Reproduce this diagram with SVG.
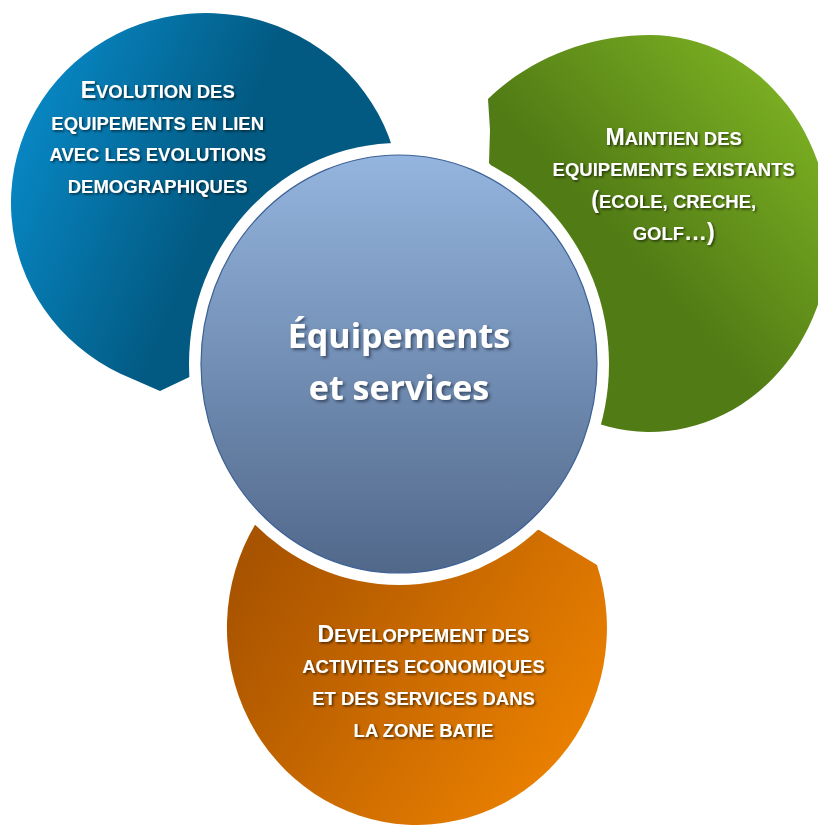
<svg xmlns="http://www.w3.org/2000/svg" width="818" height="825" viewBox="0 0 818 825">
  <defs>
    <linearGradient id="gBlue" gradientUnits="userSpaceOnUse" x1="12" y1="120" x2="215" y2="200">
      <stop offset="0" stop-color="#0889c7"/>
      <stop offset="1" stop-color="#025a82"/>
    </linearGradient>
    <linearGradient id="gGreen" gradientUnits="userSpaceOnUse" x1="805" y1="115" x2="640" y2="265">
      <stop offset="0" stop-color="#7aae22"/>
      <stop offset="1" stop-color="#517b15"/>
    </linearGradient>
    <linearGradient id="gOrange" gradientUnits="userSpaceOnUse" x1="250" y1="560" x2="600" y2="800">
      <stop offset="0" stop-color="#a85300"/>
      <stop offset="1" stop-color="#f38600"/>
    </linearGradient>
    <linearGradient id="gCenter" gradientUnits="userSpaceOnUse" x1="0" y1="155" x2="0" y2="573">
      <stop offset="0" stop-color="#94b5df"/>
      <stop offset="1" stop-color="#51688a"/>
    </linearGradient>
    <filter id="txtShadow" x="-10%" y="-30%" width="120%" height="160%">
      <feDropShadow dx="1.5" dy="1.5" stdDeviation="1.1" flood-color="#000" flood-opacity="0.6"/>
    </filter>
    <filter id="titleShadow" x="-10%" y="-30%" width="120%" height="160%">
      <feDropShadow dx="2" dy="2" stdDeviation="1.6" flood-color="#1d2a3c" flood-opacity="0.65"/>
    </filter>
  </defs>
  <style>
    .lbl { font-family: "Liberation Sans", Arial, sans-serif; font-weight: bold; fill: #ffffff; text-anchor: middle; filter: url(#txtShadow); }
    .sc { font-size: 18.5px; }
    .cap { font-size: 23px; }
    .title { font-family: "Open Sans", "Noto Sans", sans-serif; font-weight: bold; font-size: 34px; fill: #ffffff; text-anchor: middle; filter: url(#titleShadow); }
  </style>

  <!-- blue bubble, top left -->
  <g id="node-evolution">
    <path d="M400,184 A195,190 0 1 0 120,373.5 L160,391 L200,372 Z" fill="url(#gBlue)"/>
    <text class="lbl sc" x="157.7" y="98.3"><tspan class="cap">E</tspan>VOLUTION DES</text>
    <text class="lbl sc" x="157.7" y="129.5">EQUIPEMENTS EN LIEN</text>
    <text class="lbl sc" x="157.7" y="161">AVEC LES EVOLUTIONS</text>
    <text class="lbl sc" x="157.7" y="192.7">DEMOGRAPHIQUES</text>
  </g>

  <!-- green bubble, right -->
  <g id="node-maintien">
    <path d="M590,420.7 A180,198.5 0 1 0 650,35 C590,35 530,58 488,99 L490,130 L489,163 L560,250 Z" fill="url(#gGreen)"/>
    <text class="lbl sc" x="673.7" y="145"><tspan class="cap">M</tspan>AINTIEN DES</text>
    <text class="lbl sc" x="673.7" y="176">EQUIPEMENTS EXISTANTS</text>
    <text class="lbl sc" x="673.7" y="208"><tspan class="cap">(</tspan>ECOLE, CRECHE,</text>
    <text class="lbl sc" x="673.7" y="240">GOLF<tspan class="cap">…)</tspan></text>
  </g>

  <!-- orange bubble, bottom -->
  <g id="node-developpement">
    <path d="M270,503 A190,197 0 1 0 597,565 L539,530 L500,520 Z" fill="url(#gOrange)"/>
    <text class="lbl sc" x="423.5" y="642.3"><tspan class="cap">D</tspan>EVELOPPEMENT DES</text>
    <text class="lbl sc" x="423.5" y="673">ACTIVITES ECONOMIQUES</text>
    <text class="lbl sc" x="423.5" y="704.5">ET DES SERVICES DANS</text>
    <text class="lbl sc" x="423.5" y="736.5">LA ZONE BATIE</text>
  </g>

  <!-- central theme with its white halo -->
  <g id="node-center">
    <ellipse cx="399" cy="364" rx="210" ry="221" fill="#ffffff"/>
    <ellipse cx="399" cy="364" rx="198" ry="209" fill="url(#gCenter)" stroke="#3d6196" stroke-width="1.2"/>
    <text class="title" x="399" y="348">Équipements</text>
    <text class="title" x="399" y="400">et services</text>
  </g>

  <g id="connectors"/>
</svg>
